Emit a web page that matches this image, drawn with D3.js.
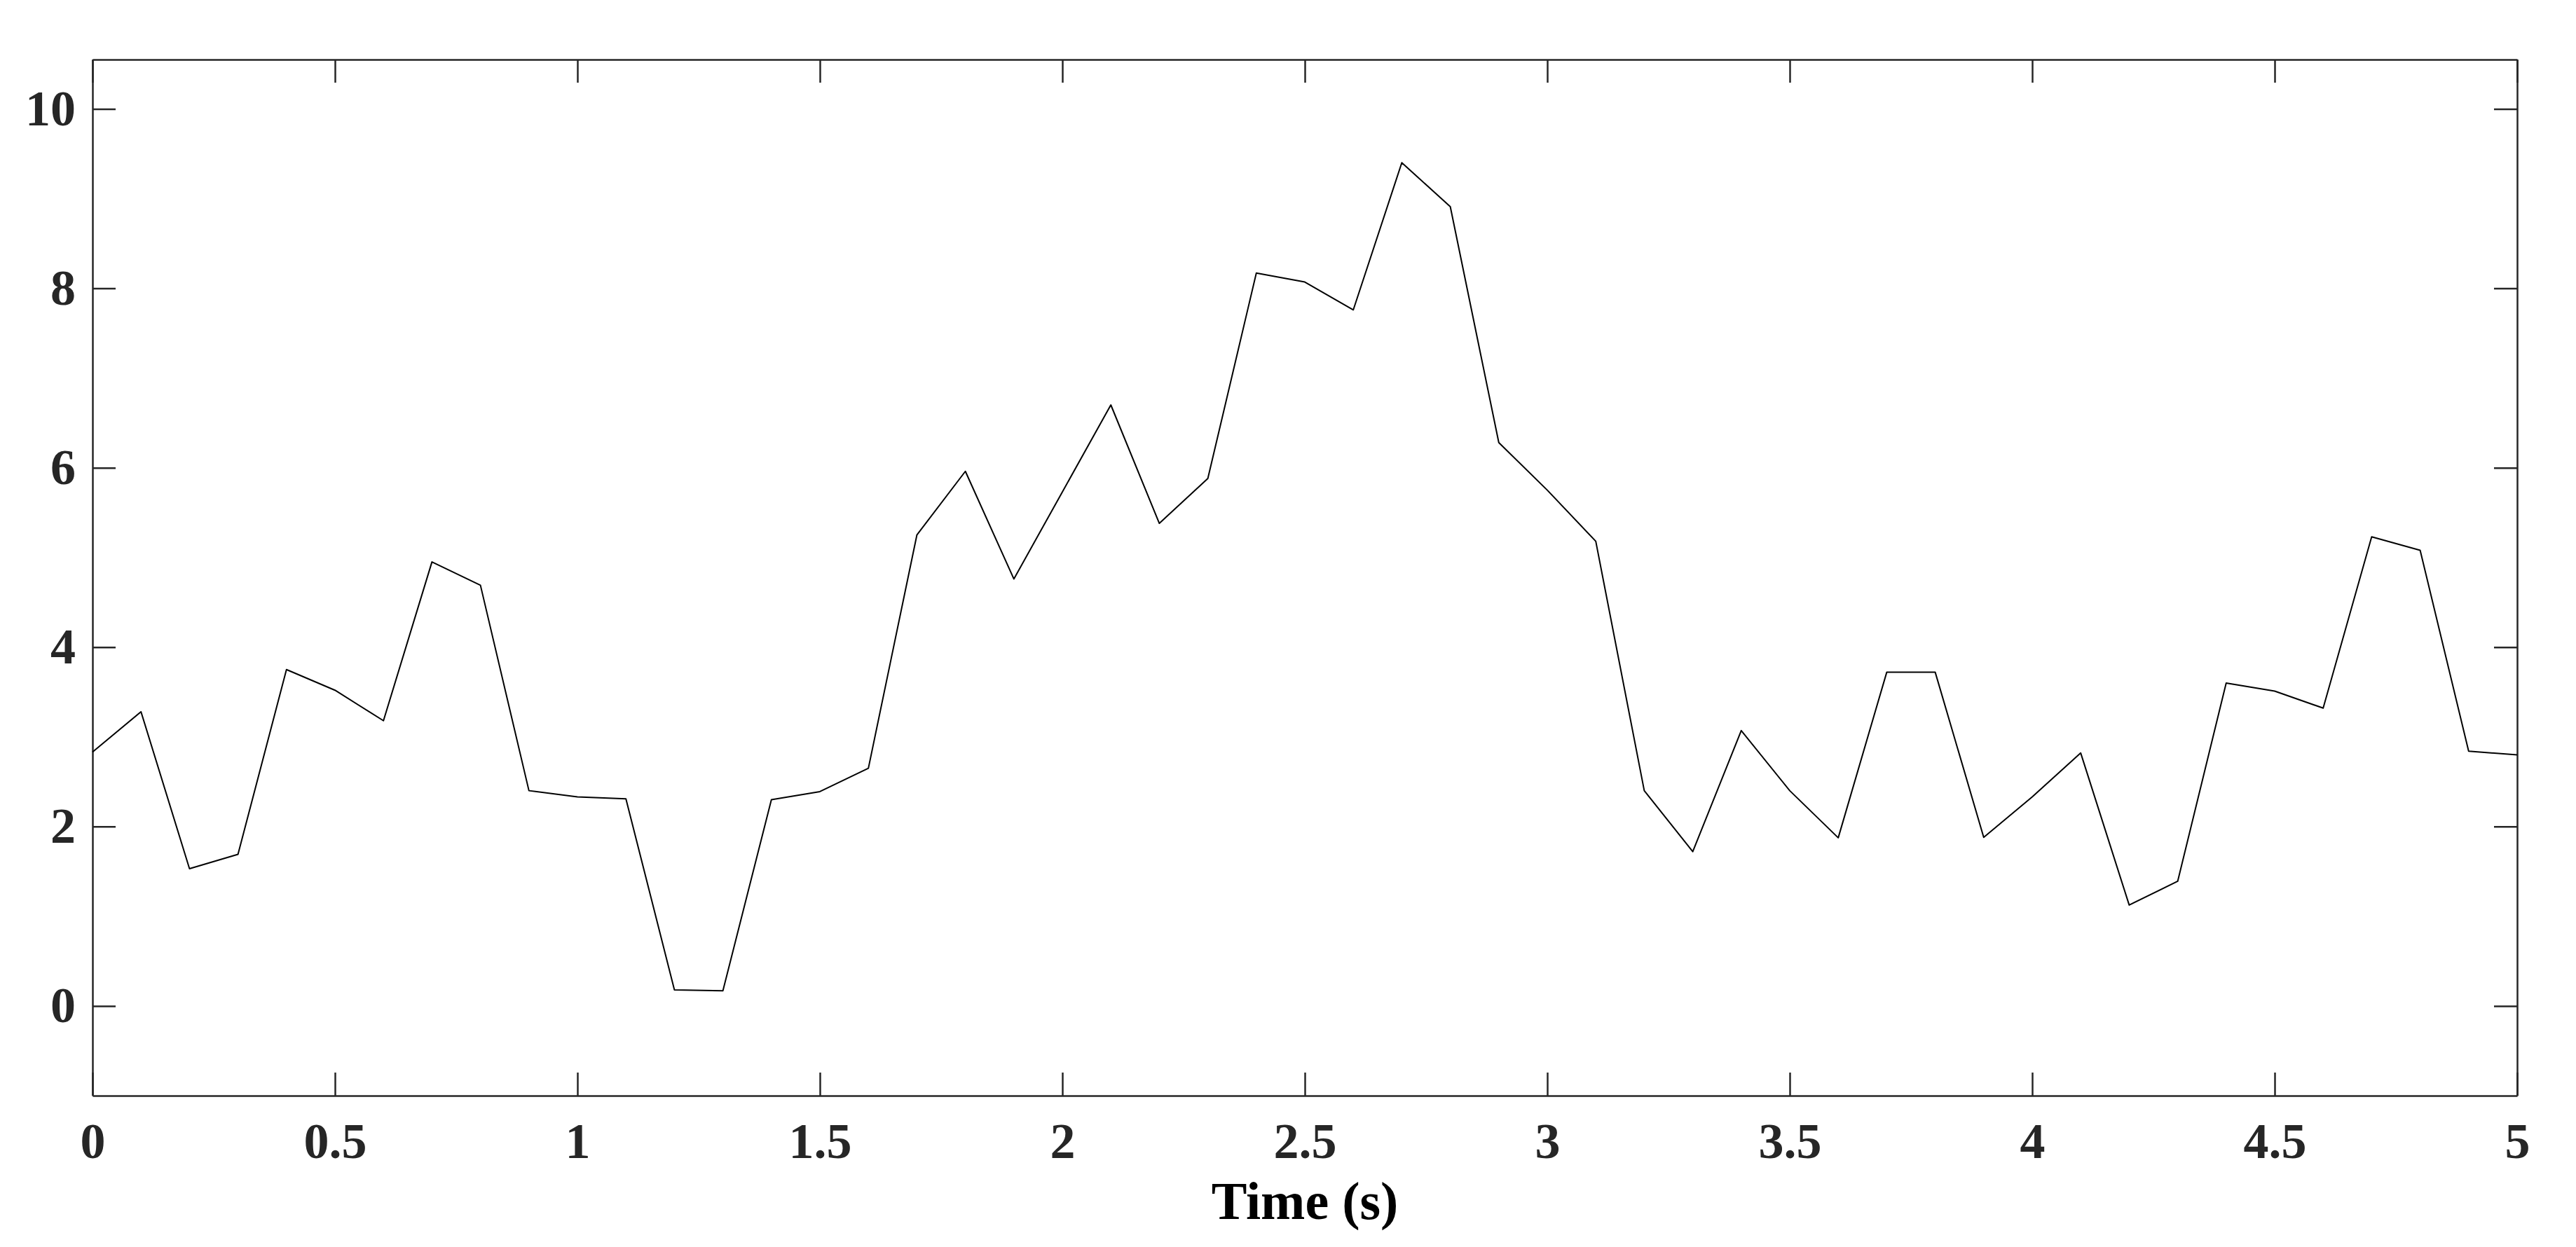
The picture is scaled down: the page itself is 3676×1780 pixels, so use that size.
<!DOCTYPE html>
<html>
<head>
<meta charset="utf-8">
<script src="https://cdn.jsdelivr.net/npm/d3@7"></script>
<style>
  body { margin: 0; background: #fff; }
  .axis text { font-family: "Liberation Serif", "Times New Roman", serif; font-weight: bold; font-size: 72px; fill: #262626; }
  .axis path, .axis line { stroke: #262626; stroke-width: 2.5; }
</style>
</head>
<body>
<div id="chart"></div>
<script>
// chart data
const times = [0, 0.1, 0.2, 0.3, 0.4, 0.5, 0.6, 0.7, 0.8, 0.9,
    1, 1.1, 1.2, 1.3, 1.4, 1.5, 1.6, 1.7, 1.8, 1.9,
    2, 2.1, 2.2, 2.3, 2.4, 2.5, 2.6, 2.7, 2.8, 2.9,
    3, 3.1, 3.2, 3.3, 3.4, 3.5, 3.6, 3.7, 3.8, 3.9,
    4, 4.1, 4.2, 4.3, 4.4, 4.5, 4.6, 4.7, 4.8, 4.9, 5]
const values = [2.83, 3.28, 1.53, 1.69, 3.75, 3.52, 3.18, 4.95, 4.69, 2.40,
    2.33, 2.31, 0.18, 0.17, 2.30, 2.39, 2.65, 5.25, 5.96, 4.76,
    5.73, 6.70, 5.38, 5.88, 8.17, 8.07, 7.76, 9.40, 8.91, 6.28,
    5.75, 5.18, 2.40, 1.72, 3.07, 2.40, 1.875, 3.72, 3.72, 1.88,
    2.33, 2.82, 1.125, 1.39, 3.60, 3.51, 3.32, 5.23, 5.08, 2.84, 2.80]
const xTicks = [0, 0.5, 1, 1.5, 2, 2.5, 3, 3.5, 4, 4.5, 5]
const yTicks = [0, 2, 4, 6, 8, 10]
const xLabel = "Time (s)"

// sizes
const width = 3676
const height = 1780
const margin = { top: 85, right: 84, bottom: 216, left: 132 }
const tickLen = 33

const svg = d3.select("#chart").append("svg")
    .attr("width", width).attr("height", height)

// scales
const x = d3.scaleLinear().domain([0, 5]).range([margin.left, width - margin.right])
const y = d3.scaleLinear().domain([-1, 10.55]).range([height - margin.bottom, margin.top])

// axes, ticks pointing inwards like the original
const fmt = d => d3.format("")(d)
const xAxis = d3.axisBottom(x).tickValues(xTicks).tickFormat(fmt)
    .tickSizeInner(-tickLen).tickSizeOuter(0).tickPadding(38)
const xAxisTop = d3.axisTop(x).tickValues(xTicks).tickFormat("")
    .tickSizeInner(-tickLen).tickSizeOuter(0)
const yAxis = d3.axisLeft(y).tickValues(yTicks).tickFormat(fmt)
    .tickSizeInner(-tickLen).tickSizeOuter(0).tickPadding(24)
const yAxisRight = d3.axisRight(y).tickValues(yTicks).tickFormat("")
    .tickSizeInner(-tickLen).tickSizeOuter(0)

svg.append("g").attr("class", "axis")
    .attr("transform", `translate(0, ${height - margin.bottom})`).call(xAxis)
svg.append("g").attr("class", "axis")
    .attr("transform", `translate(0, ${margin.top})`).call(xAxisTop)
svg.append("g").attr("class", "axis")
    .attr("transform", `translate(${margin.left}, 0)`).call(yAxis)
svg.append("g").attr("class", "axis")
    .attr("transform", `translate(${width - margin.right}, 0)`).call(yAxisRight)

svg.selectAll(".axis text").attr("font-family", null).attr("font-size", null)

// the line
const data = times.map((t, i) => ({ t: t, v: values[i] }))
svg.append("path")
    .datum(data)
    .attr("fill", "none")
    .attr("stroke", "#000")
    .attr("stroke-width", 2)
    .attr("stroke-linejoin", "round")
    .attr("d", d3.line().x(d => x(d.t)).y(d => y(d.v)))

// x label
svg.append("text")
    .attr("x", (x(0) + x(5)) / 2)
    .attr("y", 1740)
    .attr("text-anchor", "middle")
    .style("font-family", "'Liberation Serif', 'Times New Roman', serif")
    .style("font-weight", "bold")
    .style("font-size", "76px")
    .style("fill", "#000")
    .text(xLabel)
</script>
</body>
</html>
